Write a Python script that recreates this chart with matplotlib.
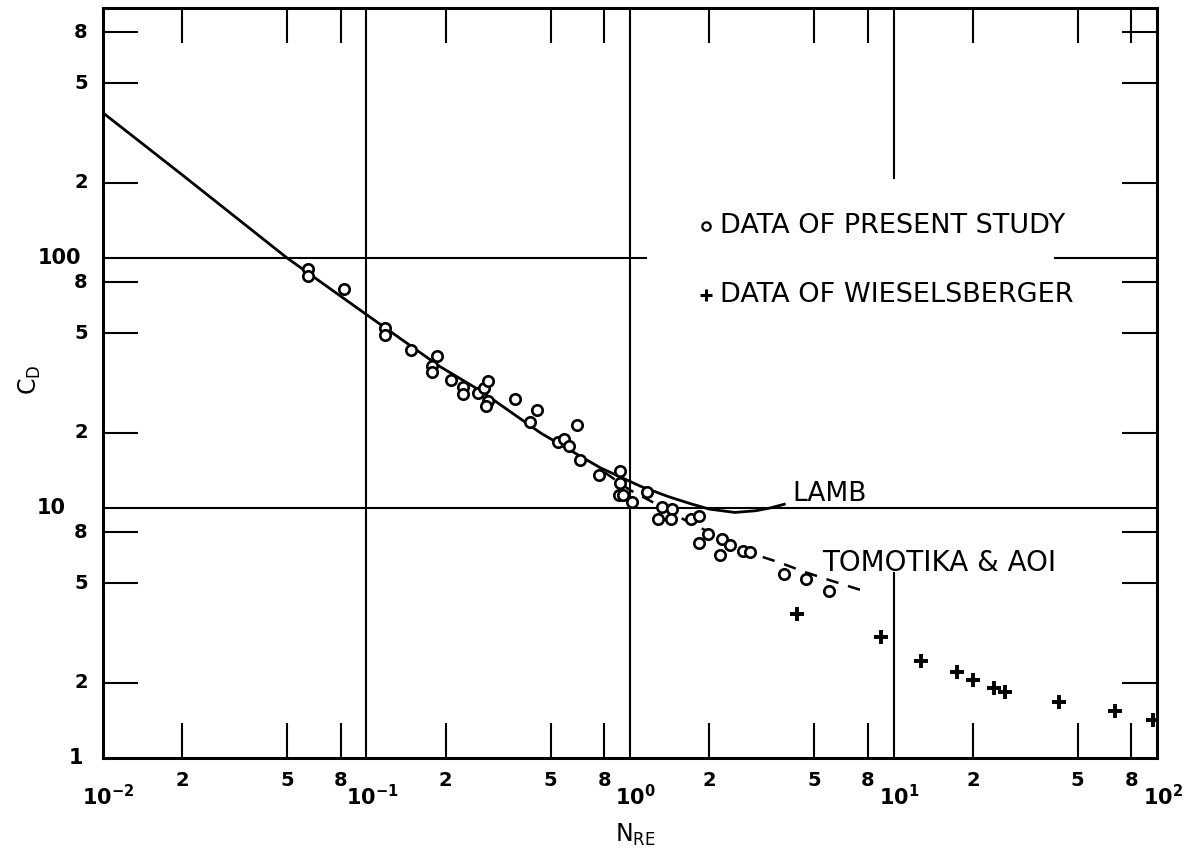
import matplotlib
matplotlib.use("Agg")
import matplotlib.pyplot as plt
from matplotlib.ticker import NullLocator

plt.rcParams['font.family'] = ['DejaVu Sans']
plt.rcParams['mathtext.default'] = 'regular'

# Lamb solution
lamb_re = [0.01, 0.02, 0.05, 0.1, 0.19, 0.27, 0.46, 0.77, 1.1, 1.4, 1.7, 2.0, 2.5, 3.0, 3.4, 3.85]
lamb_cd = [381, 215, 100, 59.4, 36.8, 29.5, 19.9, 14.5, 12.2, 11.1, 10.4, 9.9, 9.6, 9.75, 10.0, 10.35]

# Tomotika & Aoi, dashed curve
tomo_re = [0.8, 1.0, 1.21, 1.6, 2.0, 2.5, 3.0, 3.7, 4.6, 5.7, 7.5]
tomo_cd = [13.9, 11.8, 10.6, 9.0, 8.0, 7.2, 6.5, 6.05, 5.55, 5.15, 4.7]

# data of present study (open circles)
study_re = [0.060, 0.060, 0.0824, 0.118, 0.118, 0.148, 0.1845, 0.178, 0.178, 0.21,
            0.233, 0.233, 0.265, 0.279, 0.288, 0.29, 0.283, 0.365, 0.444, 0.418,
            0.628, 0.531, 0.562, 0.588, 0.647, 0.764, 0.918, 0.918, 0.91, 0.94,
            1.02, 1.157, 1.32, 1.444, 1.274, 1.432, 1.706, 1.835, 1.82, 1.974,
            2.232, 2.386, 2.198, 2.68, 2.86, 3.84, 4.67, 5.69]
study_cd = [90.4, 84.9, 75.3, 52.6, 49.4, 42.9, 40.6, 37.1, 35.1, 32.5,
            30.4, 28.6, 28.8, 30.2, 32.1, 26.9, 25.7, 27.2, 24.7, 22.0,
            21.5, 18.4, 18.8, 17.7, 15.6, 13.5, 14.0, 12.6, 11.3, 11.3,
            10.6, 11.6, 10.1, 9.9, 9.04, 9.0, 9.0, 9.27, 7.22, 7.84,
            7.53, 7.08, 6.47, 6.73, 6.69, 5.43, 5.22, 4.67]

# data of Wieselsberger (crosses)
wies_re = [4.31, 9.0, 12.67, 17.4, 20.1, 24.0, 26.5, 42.3, 69.0, 96.3]
wies_cd = [3.78, 3.05, 2.45, 2.20, 2.05, 1.90, 1.83, 1.67, 1.54, 1.42]

# tick marks and labels
x_ticks = [0.02, 0.05, 0.08, 0.2, 0.5, 0.8, 2, 5, 8, 20, 50, 80]
x_tick_labels = ['2', '5', '8'] * 4
x_decades = [0.01, 0.1, 1, 10, 100]
x_decade_labels = ['$10^{-2}$', '$10^{-1}$', '$10^{0}$', '$10^{1}$', '$10^{2}$']
y_ticks = [2, 5, 8, 20, 50, 80, 200, 500, 800]
y_tick_labels = ['2', '5', '8'] * 3
y_decades = [1, 10, 100]
y_decade_labels = ['1', '10', '100']

fig = plt.figure(figsize=(11.97, 8.64), dpi=100)
ax = fig.add_axes([0.086, 0.1227, 0.8806, 0.868])
ax.set_xscale('log')
ax.set_yscale('log')
ax.set_xlim(0.01, 100)
ax.set_ylim(1, 1000)

for s in ax.spines.values():
    s.set_linewidth(2.2)

ax.set_xticks(x_ticks)
ax.set_yticks(y_ticks)
ax.xaxis.set_minor_locator(NullLocator())
ax.yaxis.set_minor_locator(NullLocator())
ax.tick_params(which='both', direction='in', length=25, width=1.5,
               top=True, right=True, labelbottom=False, labelleft=False)

# grid lines (some broken around the lettering, as drawn)
kw = dict(color='k', lw=1.5, zorder=1)
ax.axvline(0.1, **kw)
ax.axvline(1, **kw)
ax.axhline(10, **kw)
ax.plot([0.01, 1.15], [100, 100], **kw)
ax.plot([41, 100], [100, 100], **kw)
ax.plot([10, 10], [209, 1000], **kw)
ax.plot([10, 10], [1, 5.5], **kw)

ax.plot(lamb_re, lamb_cd, color='k', lw=2.0, zorder=3)
ax.plot(tomo_re, tomo_cd, color='k', lw=1.8, ls=(0, (5, 4)), zorder=3)
ax.plot(study_re, study_cd, ls='none', marker='o', ms=7.5, mfc='white',
        mec='k', mew=1.9, zorder=4)
ax.plot(wies_re, wies_cd, ls='none', marker='+', ms=10, mec='k', mew=2.8, zorder=4)

# tick labels
tfont = dict(fontsize=14, fontweight='bold')
xt = ax.get_xaxis_transform()
for v, lab in zip(x_ticks, x_tick_labels):
    ax.annotate(lab, xy=(v, 0), xycoords=xt, xytext=(0, -20), textcoords='offset points',
                ha='center', va='baseline', **tfont)
for v, lab in zip(x_decades, x_decade_labels):
    ax.annotate(lab, xy=(v, 0), xycoords=xt, xytext=(4, -34), textcoords='offset points',
                ha='center', va='baseline', fontsize=15, fontweight='bold')
yt = ax.get_yaxis_transform()
for v, lab in zip(y_ticks, y_tick_labels):
    ax.annotate(lab, xy=(0, v), xycoords=yt, xytext=(-11, 0), textcoords='offset points',
                ha='right', va='center', **tfont)
y_off = {'1': -14, '10': -27, '100': -16}
for v, lab in zip(y_decades, y_decade_labels):
    ax.annotate(lab, xy=(0, v), xycoords=yt, xytext=(y_off[lab], 0), textcoords='offset points',
                ha='right', va='center', fontsize=15, fontweight='bold')

# axis titles
fig.text(30 / 1197, 1 - 380 / 864, '$C_D$', rotation=90, ha='center', va='center',
         fontsize=17)
fig.text(635 / 1197, 1 - 835 / 864, '$N_{RE}$', ha='center', va='center',
         fontsize=17)

# legend, drawn by hand like the original lettering
ax.plot([0.572], [0.709], transform=ax.transAxes, marker='o', ms=6, mfc='white',
        mec='k', mew=1.6, clip_on=False)
ax.text(0.585, 0.709, 'DATA OF PRESENT STUDY', transform=ax.transAxes,
        ha='left', va='center', fontsize=19.5)
ax.plot([0.572], [0.617], transform=ax.transAxes, marker='+', ms=9, mec='k',
        mew=2.2, clip_on=False)
ax.text(0.585, 0.617, 'DATA OF WIESELSBERGER', transform=ax.transAxes,
        ha='left', va='center', fontsize=19.5)

ax.text(0.654, 0.352, 'LAMB', transform=ax.transAxes, ha='left', va='center', fontsize=19)
ax.text(0.682, 0.260, 'TOMOTIKA & AOI', transform=ax.transAxes, ha='left', va='center',
        fontsize=20)

fig.savefig('out.png', dpi=100)
